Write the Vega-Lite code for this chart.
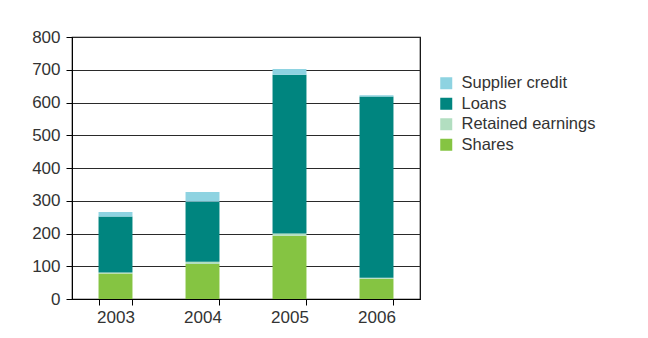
{
  "$schema": "https://vega.github.io/schema/vega-lite/v6.json",
  "width": 348,
  "height": 262,
  "autosize": "none",
  "padding": {"left": 72, "top": 37, "right": 228, "bottom": 39},
  "background": "white",
  "data": {
    "values": [
      {"year": "2003", "source": "Shares", "value": 78},
      {"year": "2003", "source": "Retained earnings", "value": 3},
      {"year": "2003", "source": "Loans", "value": 171},
      {"year": "2003", "source": "Supplier credit", "value": 14},
      {"year": "2004", "source": "Shares", "value": 107},
      {"year": "2004", "source": "Retained earnings", "value": 7},
      {"year": "2004", "source": "Loans", "value": 183},
      {"year": "2004", "source": "Supplier credit", "value": 30},
      {"year": "2005", "source": "Shares", "value": 193},
      {"year": "2005", "source": "Retained earnings", "value": 7},
      {"year": "2005", "source": "Loans", "value": 485},
      {"year": "2005", "source": "Supplier credit", "value": 17},
      {"year": "2006", "source": "Shares", "value": 62},
      {"year": "2006", "source": "Retained earnings", "value": 3},
      {"year": "2006", "source": "Loans", "value": 553},
      {"year": "2006", "source": "Supplier credit", "value": 4}
    ]
  },
  "transform": [
    {"calculate": "indexof(['Shares','Retained earnings','Loans','Supplier credit'], datum.source)", "as": "k"}
  ],
  "mark": {"type": "bar"},
  "encoding": {
    "x": {
      "field": "year", "type": "nominal",
      "scale": {"paddingInner": 0.61, "paddingOuter": 0.305},
      "axis": {
        "title": null, "labelAngle": 0, "tickBand": "extent",
        "labelFont": "Liberation Sans", "labelFontSize": 17, "labelColor": "#333333",
        "labelPadding": 4, "tickSize": 6, "tickColor": "#000000", "domainColor": "#000000",
        "grid": false
      }
    },
    "y": {
      "field": "value", "type": "quantitative", "aggregate": "sum", "stack": "zero",
      "scale": {"domain": [0, 800]},
      "axis": {
        "title": null, "values": [0, 100, 200, 300, 400, 500, 600, 700, 800],
        "labelFont": "Liberation Sans", "labelFontSize": 17, "labelColor": "#333333",
        "labelPadding": 6, "tickSize": 6, "tickColor": "#000000", "domainColor": "#000000",
        "grid": true, "gridColor": "#2a2a2a", "gridWidth": 1.2, "gridOpacity": 1
      }
    },
    "color": {
      "field": "source", "type": "nominal",
      "scale": {
        "domain": ["Supplier credit", "Loans", "Retained earnings", "Shares"],
        "range": ["#8ed3e1", "#00857f", "#b2dec0", "#85c442"]
      },
      "legend": {
        "title": null, "orient": "none", "legendX": 366, "legendY": 38,
        "symbolType": "square", "symbolSize": 144, "symbolStrokeWidth": 0,
        "labelFont": "Liberation Sans", "labelFontSize": 16.5, "labelColor": "#333333",
        "labelOffset": 7, "rowPadding": 3.5
      }
    },
    "order": {"field": "k", "type": "quantitative", "sort": "ascending"}
  },
  "config": {
    "view": {"stroke": "#000000", "strokeWidth": 1.2}
  }
}
